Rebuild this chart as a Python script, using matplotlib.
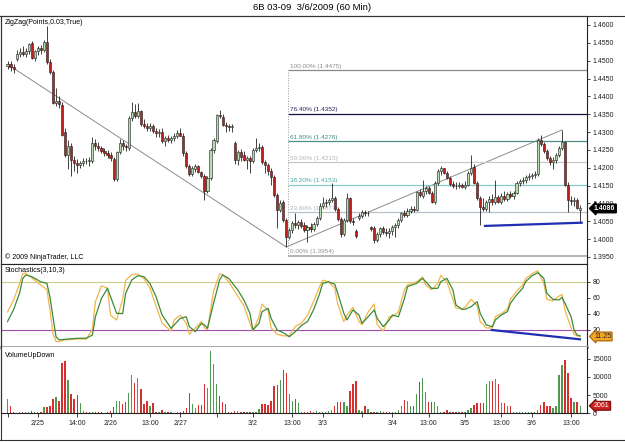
import numpy as np
import matplotlib
matplotlib.use("Agg")
import matplotlib.pyplot as plt
from matplotlib.lines import Line2D
from matplotlib.transforms import blended_transform_factory

plt.rcParams['font.family'] = ['Liberation Sans', 'DejaVu Sans']

# 60 min bars of 6B 03-09, prices in pips above 1.4000
opens = [484, 490, 482, 505, 520, 525, 518, 526, 550, 508, 526, 536, 530, 552, 496, 468, 382, 388, 376, 300,
         236, 262, 222, 214, 208, 214, 220, 218, 220, 268, 262, 256, 246, 240, 236, 224, 168, 244, 270, 260,
         256, 340, 356, 346, 358, 322, 316, 310, 318, 304, 298, 300, 276, 282, 278, 284, 288, 298, 290, 240,
         204, 182, 196, 204, 188, 176, 136, 172, 250, 274, 348, 342, 320, 316, 314, 270, 222, 244, 236, 222,
         226, 218, 250, 256, 258, 216, 208, 192, 174, 124, 82, 104, 54, 6, 26, 46, 40, 48, 40, 26,
         34, 28, 42, 60, 94, 100, 104, 110, 114, 84, 56, 14, 54, 114, 50, 22, 60, 66, 76, 72,
         34, 30, -2, 14, 30, 20, 18, 24, 34, 40, 54, 72, 68, 80, 84, 82, 132, 120, 134, 144,
         130, 104, 158, 190, 198, 186, 172, 154, 150, 148, 152, 146, 152, 186, 202, 158, 116, 90, 84, 104,
         112, 104, 118, 104, 120, 112, 126, 120, 130, 158, 162, 166, 174, 178, 180, 182, 278, 266, 246, 226,
         216, 222, 236, 256, 272, 152, 110, 106, 110, 82]
highs = [500, 498, 492, 530, 535, 540, 535, 550, 556, 530, 542, 545, 558, 598, 505, 475, 424, 400, 385, 310,
         278, 268, 232, 225, 220, 226, 228, 230, 286, 280, 272, 262, 255, 250, 244, 230, 248, 280, 278, 266,
         345, 384, 380, 382, 362, 336, 326, 326, 322, 312, 308, 312, 288, 292, 290, 296, 306, 310, 296, 248,
         210, 206, 210, 208, 192, 182, 176, 256, 284, 352, 362, 350, 328, 322, 322, 274, 250, 252, 248, 232,
         234, 254, 284, 270, 264, 222, 214, 198, 180, 130, 110, 110, 60, 30, 50, 74, 54, 56, 48, 40,
         44, 48, 64, 100, 118, 112, 116, 158, 120, 90, 62, 60, 130, 118, 60, 28, 72, 82, 82, 80,
         38, 36, 20, 34, 36, 30, 30, 40, 46, 58, 76, 82, 88, 92, 94, 136, 140, 166, 148, 150,
         136, 162, 196, 204, 200, 190, 178, 164, 160, 160, 158, 162, 190, 236, 210, 164, 122, 116, 110, 122,
         126, 166, 124, 128, 134, 132, 136, 136, 164, 168, 174, 180, 184, 186, 190, 284, 292, 272, 252, 234,
         230, 240, 262, 306, 276, 160, 122, 118, 114, 96]
lows = [476, 470, 466, 498, 510, 512, 510, 518, 505, 500, 515, 520, 525, 490, 462, 378, 372, 368, 288, 230,
        196, 176, 190, 186, 198, 204, 210, 206, 214, 250, 248, 240, 232, 228, 220, 162, 164, 238, 250, 246,
        250, 332, 340, 340, 316, 312, 304, 302, 296, 286, 286, 270, 262, 272, 268, 274, 282, 288, 232, 200,
        176, 178, 188, 184, 172, 110, 130, 166, 240, 268, 338, 316, 300, 302, 300, 210, 208, 220, 218, 196,
        186, 212, 244, 248, 210, 186, 180, 152, 118, 32, 76, 48, -22, 0, 18, 30, 28, 30, 20, -8,
        20, 22, 36, 54, 88, 90, 96, 104, 80, 50, 6, 8, 48, 46, 40, 4, 54, 60, 66, 66,
        22, -10, -8, 6, 14, 10, 4, 12, 6, 30, 48, 62, 62, 74, 76, 78, 118, 114, 126, 126,
        100, 98, 152, 180, 182, 168, 150, 144, 140, 142, 142, 140, 148, 180, 154, 110, 40, 80, 78, 76,
        96, 98, 100, 98, 108, 106, 114, 112, 126, 148, 154, 158, 166, 168, 172, 178, 262, 240, 222, 208,
        196, 214, 230, 250, 150, 76, 96, 94, 84, 46]
closes = [490, 482, 478, 520, 525, 518, 528, 546, 508, 526, 536, 530, 552, 496, 468, 382, 388, 378, 292, 236,
          262, 222, 214, 208, 214, 220, 218, 222, 268, 262, 256, 246, 240, 236, 226, 168, 244, 270, 260, 258,
          340, 356, 346, 358, 322, 316, 310, 318, 304, 298, 300, 276, 282, 278, 284, 288, 298, 290, 240, 204,
          182, 200, 204, 188, 176, 134, 172, 250, 278, 348, 344, 320, 316, 314, 318, 222, 244, 230, 222, 226,
          218, 250, 256, 258, 216, 208, 192, 174, 124, 82, 102, 54, 6, 26, 46, 40, 48, 38, 26, 34,
          28, 42, 60, 94, 100, 104, 110, 114, 84, 56, 14, 54, 116, 50, 48, 8, 66, 76, 72, 74,
          28, -2, 14, 30, 20, 18, 24, 34, 40, 54, 72, 68, 80, 84, 82, 132, 124, 134, 142, 130,
          104, 158, 190, 198, 186, 172, 154, 150, 148, 152, 146, 152, 186, 200, 158, 116, 90, 84, 104, 112,
          104, 118, 104, 120, 112, 126, 120, 130, 158, 162, 166, 174, 178, 180, 182, 278, 266, 246, 226, 216,
          222, 236, 256, 272, 152, 110, 106, 110, 88, 86]
volume = [3850, 2100, 300, 150, 400, 250, 450, 350, 600, 300, 400, 250, 1650, 1650, 2100, 3900, 4400, 3400, 13700, 14400,
          9200, 5400, 3900, 5000, 2750, 500, 300, 450, 350, 250, 400, 300, 200, 350, 500, 1800, 3400, 3400, 2500, 3200,
          5700, 10500, 8200, 9800, 6600, 2500, 3400, 2000, 2750, 400, 300, 900, 300, 250, 350, 200, 300, 400, 600, 1550,
          5500, 2500, 1550, 2300, 2300, 8050, 6900, 17100, 13500, 8000, 4800, 3200, 2500, 300, 400, 700, 700, 300, 400, 250,
          350, 300, 450, 1100, 2600, 2500, 2300, 3400, 7600, 7800, 9200, 11900, 11200, 5300, 3400, 3900, 2850, 300, 400, 350,
          500, 300, 600, 400, 300, 350, 550, 1000, 2100, 3200, 3200, 3200, 2100, 6200, 8050, 9000, 1000, 550, 2100, 1200,
          300, 400, 250, 700, 300, 350, 250, 400, 300, 900, 1900, 3650, 3500, 2100, 2100, 5300, 8500, 9700, 5800, 3200,
          3200, 3200, 1900, 300, 400, 900, 350, 300, 250, 400, 300, 350, 900, 1400, 2300, 2850, 2850, 2750, 8050, 8800,
          9000, 9400, 8050, 2750, 2850, 1900, 1900, 400, 300, 350, 250, 300, 400, 350, 300, 1000, 2300, 3200, 1900, 1900,
          1400, 2100, 10500, 13300, 14500, 11100, 4100, 3200, 3200, 2061]

# Stochastics(3,10,3): bar index, green (D) and orange (K) lines
stoch_x = [0, 2, 4, 5, 6, 8, 11, 13, 14, 15, 16, 17, 19, 23, 26, 28, 29, 31, 33, 34,
           36, 38, 39, 41, 43, 45, 47, 49, 51, 54, 55, 57, 59, 60, 62, 64, 65, 66, 68, 70,
           71, 73, 76, 78, 80, 81, 83, 84, 86, 87, 89, 91, 93, 95, 97, 99, 101, 103, 104, 106,
           108, 109, 111, 112, 114, 116, 117, 119, 121, 122, 124, 126, 127, 129, 131, 132, 135, 137, 138, 140,
           142, 143, 145, 147, 148, 150, 151, 153, 155, 156, 158, 160, 161, 163, 165, 166, 168, 170, 171, 173,
           175, 177, 178, 180, 182, 183, 184, 186, 187, 188, 189]
stoch_d = [30, 45, 66, 84, 88.6, 86.5, 80, 78, 61, 36, 11, 7, 7.7, 9, 9, 13, 36, 59, 71.8, 61.4,
           40.4, 40, 65.5, 82.3, 87.7, 86.5, 78, 61.4, 38.3, 21.5, 25.7, 34, 36, 23.6, 17.3, 27.8, 25.7, 21.5, 53, 82.3,
           88.6, 84.4, 69.7, 57.2, 40.4, 19.4, 27.8, 42.5, 46.6, 34, 19.4, 16, 11, 17.3, 25, 30, 44.6, 65, 78, 80,
           77, 65.5, 40.4, 32, 44.6, 38.3, 27.8, 36, 44.6, 34, 23.6, 32, 38.3, 36, 59, 73.9, 78, 84.4, 80.2, 71.8,
           71.8, 80.2, 84.4, 69.7, 50.9, 45.4, 45.4, 48.8, 55, 40.4, 25.7, 23.6, 32, 38.3, 42.5, 53, 63.4, 71.8, 80.2, 87.3,
           91.5, 84.4, 65.5, 58, 57.2, 60.4, 53, 36, 19.4, 13, 12]
stoch_k = [42, 57, 78, 90, 91, 85, 76, 70, 45, 15, 5, 4.8, 7, 8, 8, 20, 55, 75, 72, 38,
           32, 58, 82, 89, 90, 84, 72, 50, 28, 18, 32, 38, 28, 14, 22, 30, 22, 20, 68, 90,
           89, 80, 62, 50, 28, 18, 36, 52, 44, 22, 14, 12, 12, 24, 28, 38, 55, 74, 82, 80,
           72, 52, 30, 38, 48, 30, 26, 42, 52, 26, 18, 36, 36, 42, 70, 76, 80, 86, 76, 70,
           78, 88, 80, 58, 47, 46, 48, 58, 50, 30, 22, 22, 36, 40, 46, 58, 68, 76, 84, 90,
           94, 78, 58, 56, 62, 64, 44, 22, 14, 12, 11.25]

# ZigZag(Points,0.03,True) swing points (bar index, pips)
zigzag_x = [0, 92, 183]
zigzag_y = [490, -22, 306]

# Fibonacci retracement drawn from the 3/2 low
fib_start = 92.7
fib_pct = ['100.00%', '76.40%', '61.80%', '50.00%', '38.20%', '23.60%', '0.00%']
fib_price = [1.4475, 1.4352, 1.4276, 1.4215, 1.4153, 1.4077, 1.3954]
fib_line_col = ['#8a8a8a', '#10103a', '#4a9088', '#c8c8c8', '#86cccc', '#b8c0c8', '#a8a8a8']
fib_text_col = ['#8a8a8a', '#202060', '#3a8a80', '#b4b4b4', '#4aa8a8', '#a8b4c0', '#909090']

# blue trend lines drawn by hand on the chart
blue_px_x = [157.6, 189.5]
blue_px_y = [1.4037, 1.4046]
blue_st_x = [159.8, 188.9]
blue_st_y = [19.4, 7.7]

tick_pos = [0, 10, 23, 34, 47, 57, 69, 81, 94, 104, 117, 127, 139, 151, 163, 173, 186]
tick_lbl = ['', '2/25', '14:00', '2/26', '13:00', '2/27', '', '3/2', '13:00', '3/3', '',
            '3/4', '13:00', '3/5', '13:00', '3/6', '13:00']

last_price = 1.4086
last_stoch = 11.25
last_vol = 2061

# ---------------------------------------------------------------
x = np.arange(len(closes))
o = 1.4 + np.array(opens) / 10000.0
h = 1.4 + np.array(highs) / 10000.0
l = 1.4 + np.array(lows) / 10000.0
c = 1.4 + np.array(closes) / 10000.0
up = c >= o

fig = plt.figure(figsize=(6.25, 4.42), dpi=100)
L, W = 1 / 625, 586 / 625
ax1 = fig.add_axes([L, 1 - 264 / 442, W, 248 / 442])
ax2 = fig.add_axes([L, 1 - 347 / 442, W, 83 / 442])
ax3 = fig.add_axes([L, 1 - 413.3 / 442, W, 66.3 / 442])

for ax in (ax1, ax2, ax3):
    ax.set_xlim(-2.15, 191.25)
    ax.yaxis.tick_right()
    ax.tick_params(axis='y', labelsize=5, length=2.5, width=0.6, pad=1.5, colors='#222222')
    for s in ax.spines.values():
        s.set_linewidth(0.8)
        s.set_color('#222222')

# ---- price panel
ax1.vlines(x, l, h, color='#222222', lw=0.6, zorder=2)
body = np.where(np.abs(c - o) < 0.00006, 0.00006, c - o)
ax1.bar(x, body, bottom=o, width=0.7, color=np.where(up, '#b4dcae', '#c0201c'),
        edgecolor='#1a1a1a', linewidth=0.4, zorder=3)
ax1.plot(zigzag_x, 1.4 + np.array(zigzag_y) / 10000.0, color='#8c8c8c', lw=0.7, zorder=1)
for pct, p, lc, tc in zip(fib_pct, fib_price, fib_line_col, fib_text_col):
    ax1.hlines(p, fib_start, 191.25, color=lc, lw=1.2 if pct == '0.00%' else 0.9, zorder=1)
    ax1.text(fib_start + 0.6, p + 0.0003, f'{pct} ({p:.4f})', fontsize=4.6, color=tc,
             va='bottom', ha='left', zorder=1)
ax1.vlines(fib_start, fib_price[-1], fib_price[0], color='#999999', lw=0.7, linestyles=':', zorder=1)
ax1.plot(blue_px_x, blue_px_y, color='#1f2fb0', lw=1.6, zorder=4)
ax1.set_ylim(1.39303, 1.46252)
ax1.set_yticks(np.arange(1.395, 1.4601, 0.005))
ax1.set_yticklabels([f'{v:.4f}' for v in np.arange(1.395, 1.4601, 0.005)])
ax1.set_xticks([])
ax1.text(0.006, 0.988, 'ZigZag(Points,0.03,True)', transform=ax1.transAxes, fontsize=5, va='top')
ax1.text(0.006, 0.012, '© 2009 NinjaTrader, LLC', transform=ax1.transAxes, fontsize=5, va='bottom')
# last price tag sits over the 1.4100 label, as on the original chart
t1 = blended_transform_factory(ax1.transAxes, ax1.transData)
ax1.text(1.012, last_price, f'{last_price:.4f}', transform=t1, fontsize=5, color='white',
         fontweight='bold', va='center', ha='left', zorder=5,
         bbox=dict(boxstyle='larrow,pad=0.12', fc='black', ec='black'))

# ---- stochastics panel
ax2.axhline(80, color='#d0cc88', lw=0.8)
ax2.axhline(20, color='#a04cb0', lw=0.8)
ax2.plot(stoch_x, stoch_k, color='#f2b54a', lw=0.9)
ax2.plot(stoch_x, stoch_d, color='#3b8a3b', lw=0.9)
ax2.plot(blue_st_x, blue_st_y, color='#1f2fb0', lw=1.6)
ax2.set_ylim(-2, 102.4)
ax2.set_yticks([20, 40, 60, 80])
ax2.set_xticks([])
ax2.spines['bottom'].set_color('#a0a0a0')
ax2.spines['bottom'].set_linewidth(2)
ax2.text(0.006, 0.96, 'Stochastics(3,10,3)', transform=ax2.transAxes, fontsize=5, va='top')
t2 = blended_transform_factory(ax2.transAxes, ax2.transData)
ax2.text(1.012, last_stoch, f'{last_stoch:.2f}', transform=t2, fontsize=5, color='#222222',
         va='center', ha='left', bbox=dict(boxstyle='larrow,pad=0.12', fc='#f5a623', ec='#b07010'))

# ---- volume panel
ax3.bar(x, volume, width=0.45, color=np.where(up, '#4e9a4e', '#d43030'))
ax3.set_ylim(0, 18200)
ax3.set_yticks([0, 5000, 10000, 15000])
ax3.set_xticks(tick_pos)
ax3.set_xticklabels(tick_lbl)
ax3.tick_params(axis='x', labelsize=5, length=3, width=0.6, pad=2, colors='#222222')
ax3.spines['top'].set_visible(False)
ax3.text(0.006, 0.93, 'VolumeUpDown', transform=ax3.transAxes, fontsize=5, va='top')
t3 = blended_transform_factory(ax3.transAxes, ax3.transData)
ax3.text(1.012, last_vol, str(last_vol), transform=t3, fontsize=5, color='white',
         va='center', ha='left', bbox=dict(boxstyle='larrow,pad=0.12', fc='#cc2222', ec='#801010'))

# frame and title
for yy in (1 - 16 / 442, 1 - 440 / 442):
    fig.add_artist(Line2D([0, 1], [yy, yy], color='#333333', lw=0.8))
fig.add_artist(Line2D([L, L], [1 - 440 / 442, 1 - 16 / 442], color='#333333', lw=0.8))
fig.text(0.5, 1 - 8 / 442, '6B 03-09  3/6/2009 (60 Min)', ha='center', va='center', fontsize=6.8)

fig.savefig('out.png', dpi=100)
